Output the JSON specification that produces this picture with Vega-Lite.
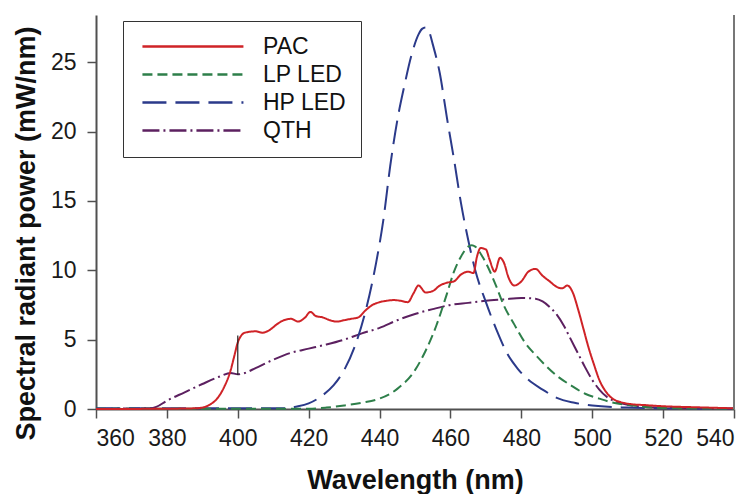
{
  "$schema": "https://vega.github.io/schema/vega-lite/v6.json",
  "width": 638,
  "height": 394,
  "autosize": "none",
  "padding": {"left": 96, "top": 15, "right": 20, "bottom": 85},
  "background": "white",
  "config": {
    "view": {"stroke": null},
    "font": "Liberation Sans",
    "axis": {
      "grid": false,
      "domainColor": "#505050",
      "domainWidth": 2,
      "tickColor": "#505050",
      "tickWidth": 1.5,
      "tickSize": 9,
      "labelFont": "Liberation Sans",
      "labelFontSize": 23,
      "labelColor": "#1a1a1a",
      "titleFont": "Liberation Sans",
      "titleFontWeight": "bold",
      "titleColor": "#111111"
    }
  },
  "datasets": {
    "curves": [
      {"s":"QTH","w":360,"v":0.02},{"s":"QTH","w":375,"v":0.05},{"s":"QTH","w":377,"v":0.15},{"s":"QTH","w":380,"v":0.6},{"s":"QTH","w":385,"v":1.2},{"s":"QTH","w":390,"v":1.8},{"s":"QTH","w":395,"v":2.35},{"s":"QTH","w":398,"v":2.6},{"s":"QTH","w":400,"v":2.5},{"s":"QTH","w":402,"v":2.6},{"s":"QTH","w":405,"v":2.95},{"s":"QTH","w":410,"v":3.55},{"s":"QTH","w":415,"v":4.05},{"s":"QTH","w":420,"v":4.35},{"s":"QTH","w":425,"v":4.65},{"s":"QTH","w":430,"v":5.0},{"s":"QTH","w":435,"v":5.45},{"s":"QTH","w":440,"v":5.85},{"s":"QTH","w":445,"v":6.4},{"s":"QTH","w":450,"v":6.85},{"s":"QTH","w":455,"v":7.2},{"s":"QTH","w":460,"v":7.5},{"s":"QTH","w":465,"v":7.65},{"s":"QTH","w":470,"v":7.8},{"s":"QTH","w":475,"v":7.9},{"s":"QTH","w":480,"v":8.0},{"s":"QTH","w":484,"v":7.95},{"s":"QTH","w":486,"v":7.75},{"s":"QTH","w":488,"v":7.35},{"s":"QTH","w":490,"v":6.8},{"s":"QTH","w":492,"v":6.0},{"s":"QTH","w":494,"v":5.0},{"s":"QTH","w":496,"v":4.0},{"s":"QTH","w":498,"v":3.0},{"s":"QTH","w":500,"v":2.1},{"s":"QTH","w":502,"v":1.4},{"s":"QTH","w":504,"v":0.9},{"s":"QTH","w":507,"v":0.5},{"s":"QTH","w":510,"v":0.3},{"s":"QTH","w":515,"v":0.15},{"s":"QTH","w":520,"v":0.1},{"s":"QTH","w":540,"v":0.03},

      {"s":"HP LED","w":360,"v":0.05},{"s":"HP LED","w":414,"v":0.05},{"s":"HP LED","w":416,"v":0.15},{"s":"HP LED","w":420,"v":0.4},{"s":"HP LED","w":424,"v":1.0},{"s":"HP LED","w":427,"v":1.7},{"s":"HP LED","w":430,"v":2.8},{"s":"HP LED","w":433,"v":4.5},{"s":"HP LED","w":436,"v":7.0},{"s":"HP LED","w":439,"v":10.5},{"s":"HP LED","w":441,"v":13.5},{"s":"HP LED","w":443,"v":17.5},{"s":"HP LED","w":445,"v":20.8},{"s":"HP LED","w":447,"v":23.3},{"s":"HP LED","w":449,"v":25.5},{"s":"HP LED","w":451,"v":27.0},{"s":"HP LED","w":452,"v":27.4},{"s":"HP LED","w":453,"v":27.5},{"s":"HP LED","w":454,"v":27.2},{"s":"HP LED","w":455,"v":26.3},{"s":"HP LED","w":457,"v":24.2},{"s":"HP LED","w":459,"v":21.0},{"s":"HP LED","w":461,"v":18.0},{"s":"HP LED","w":463,"v":14.8},{"s":"HP LED","w":465,"v":12.2},{"s":"HP LED","w":467,"v":10.0},{"s":"HP LED","w":470,"v":7.7},{"s":"HP LED","w":473,"v":5.7},{"s":"HP LED","w":476,"v":4.0},{"s":"HP LED","w":479,"v":2.9},{"s":"HP LED","w":482,"v":2.1},{"s":"HP LED","w":486,"v":1.4},{"s":"HP LED","w":490,"v":0.8},{"s":"HP LED","w":495,"v":0.45},{"s":"HP LED","w":500,"v":0.25},{"s":"HP LED","w":510,"v":0.1},{"s":"HP LED","w":520,"v":0.05},{"s":"HP LED","w":540,"v":0.02},

      {"s":"LP LED","w":360,"v":0.02},{"s":"LP LED","w":420,"v":0.02},{"s":"LP LED","w":425,"v":0.1},{"s":"LP LED","w":430,"v":0.25},{"s":"LP LED","w":435,"v":0.45},{"s":"LP LED","w":440,"v":0.75},{"s":"LP LED","w":445,"v":1.45},{"s":"LP LED","w":450,"v":2.8},{"s":"LP LED","w":453,"v":4.2},{"s":"LP LED","w":456,"v":6.0},{"s":"LP LED","w":459,"v":8.3},{"s":"LP LED","w":461,"v":9.9},{"s":"LP LED","w":463,"v":11.0},{"s":"LP LED","w":465,"v":11.7},{"s":"LP LED","w":466,"v":11.8},{"s":"LP LED","w":467,"v":11.7},{"s":"LP LED","w":469,"v":11.0},{"s":"LP LED","w":471,"v":10.0},{"s":"LP LED","w":473,"v":8.8},{"s":"LP LED","w":475,"v":7.5},{"s":"LP LED","w":478,"v":6.1},{"s":"LP LED","w":481,"v":4.8},{"s":"LP LED","w":484,"v":3.9},{"s":"LP LED","w":487,"v":3.1},{"s":"LP LED","w":490,"v":2.4},{"s":"LP LED","w":494,"v":1.7},{"s":"LP LED","w":498,"v":1.1},{"s":"LP LED","w":502,"v":0.75},{"s":"LP LED","w":506,"v":0.45},{"s":"LP LED","w":510,"v":0.3},{"s":"LP LED","w":515,"v":0.15},{"s":"LP LED","w":520,"v":0.08},{"s":"LP LED","w":540,"v":0.02},

      {"s":"PAC","w":360,"v":0.0},{"s":"PAC","w":380,"v":0.02},{"s":"PAC","w":388,"v":0.05},{"s":"PAC","w":390,"v":0.1},{"s":"PAC","w":392,"v":0.3},{"s":"PAC","w":394,"v":0.7},{"s":"PAC","w":396,"v":1.5},{"s":"PAC","w":398,"v":2.8},{"s":"PAC","w":399,"v":3.8},{"s":"PAC","w":400,"v":4.8},{"s":"PAC","w":401,"v":5.3},{"s":"PAC","w":402,"v":5.5},{"s":"PAC","w":405,"v":5.6},{"s":"PAC","w":407,"v":5.5},{"s":"PAC","w":409,"v":5.7},{"s":"PAC","w":411,"v":6.1},{"s":"PAC","w":413,"v":6.4},{"s":"PAC","w":415,"v":6.5},{"s":"PAC","w":417,"v":6.3},{"s":"PAC","w":419,"v":6.6},{"s":"PAC","w":420.5,"v":7.0},{"s":"PAC","w":422,"v":6.7},{"s":"PAC","w":424,"v":6.6},{"s":"PAC","w":426,"v":6.4},{"s":"PAC","w":428,"v":6.3},{"s":"PAC","w":430,"v":6.4},{"s":"PAC","w":432,"v":6.5},{"s":"PAC","w":434,"v":6.6},{"s":"PAC","w":436,"v":7.1},{"s":"PAC","w":438,"v":7.5},{"s":"PAC","w":440,"v":7.7},{"s":"PAC","w":442,"v":7.8},{"s":"PAC","w":444,"v":7.85},{"s":"PAC","w":446,"v":7.8},{"s":"PAC","w":448,"v":7.7},{"s":"PAC","w":449.5,"v":8.3},{"s":"PAC","w":451,"v":8.9},{"s":"PAC","w":453,"v":8.4},{"s":"PAC","w":455,"v":8.5},{"s":"PAC","w":457,"v":8.9},{"s":"PAC","w":459,"v":9.1},{"s":"PAC","w":461,"v":9.2},{"s":"PAC","w":463,"v":9.7},{"s":"PAC","w":465,"v":9.9},{"s":"PAC","w":466.5,"v":9.8},{"s":"PAC","w":467.5,"v":11.0},{"s":"PAC","w":468.5,"v":11.6},{"s":"PAC","w":470,"v":11.5},{"s":"PAC","w":471,"v":10.8},{"s":"PAC","w":472.5,"v":9.9},{"s":"PAC","w":474,"v":10.9},{"s":"PAC","w":475,"v":10.6},{"s":"PAC","w":476.5,"v":9.4},{"s":"PAC","w":478,"v":8.9},{"s":"PAC","w":480,"v":9.2},{"s":"PAC","w":482,"v":9.9},{"s":"PAC","w":484,"v":10.1},{"s":"PAC","w":486,"v":9.6},{"s":"PAC","w":488,"v":9.2},{"s":"PAC","w":490,"v":8.8},{"s":"PAC","w":491.5,"v":8.7},{"s":"PAC","w":493,"v":8.9},{"s":"PAC","w":494.5,"v":8.4},{"s":"PAC","w":496,"v":7.2},{"s":"PAC","w":497.5,"v":5.8},{"s":"PAC","w":499,"v":4.4},{"s":"PAC","w":500.5,"v":3.2},{"s":"PAC","w":502,"v":2.1},{"s":"PAC","w":504,"v":1.2},{"s":"PAC","w":506,"v":0.7},{"s":"PAC","w":508,"v":0.5},{"s":"PAC","w":511,"v":0.35},{"s":"PAC","w":515,"v":0.28},{"s":"PAC","w":520,"v":0.2},{"s":"PAC","w":530,"v":0.12},{"s":"PAC","w":540,"v":0.05}
    ]
  },
  "layer": [
    {
      "data": {"name": "curves"},
      "mark": {"type": "line", "strokeWidth": 2, "interpolate": "monotone"},
      "encoding": {
        "x": {
          "field": "w", "type": "quantitative",
          "scale": {"domain": [360, 540], "nice": false, "zero": false},
          "axis": {"values": [360,380,400,420,440,460,480,500,520,540], "labelPadding": 9, "title": "Wavelength (nm)", "titleFontSize": 27, "titleX": 319, "titleY": 79, "titleBaseline": "alphabetic", "titleAnchor": "middle"}
        },
        "y": {
          "field": "v", "type": "quantitative",
          "scale": {"domain": [0, 28.4], "nice": false},
          "axis": {"values": [0,5,10,15,20,25], "labelPadding": 11, "title": "Spectral radiant power (mW/nm)", "titleFontSize": 27, "titleX": -62, "titleY": 218, "titleBaseline": "alphabetic", "titleAlign": "center", "titleAngle": 270}
        },
        "color": {
          "field": "s", "type": "nominal",
          "scale": {"domain": ["PAC","LP LED","HP LED","QTH"], "range": ["#cf2327","#2e7f4a","#2b3a8a","#5c2060"]},
          "legend": {
            "title": null, "orient": "none", "legendX": 27, "legendY": 6,
            "direction": "vertical",
            "symbolType": "M-1.2,0H18.8", "symbolSize": 102, "symbolStrokeWidth": 2.5,
            "labelFontSize": 23, "labelFont": "Liberation Sans", "labelColor": "#111111",
            "labelOffset": 103, "rowPadding": 4, "padding": 14,
            "strokeColor": "#333333", "fillColor": "white"
          }
        },
        "strokeDash": {
          "field": "s", "type": "nominal",
          "scale": {"domain": ["PAC","LP LED","HP LED","QTH"], "range": [[1,0],[10,5],[24,9],[17,4,2,4]]},
          "legend": null
        },
        "order": {"field": "w", "type": "quantitative"}
      }
    },
    {
      "data": {"values": [{"w": 400, "lo": 2.45, "hi": 5.3}]},
      "mark": {"type": "rule", "color": "#222222", "strokeWidth": 1.2},
      "encoding": {
        "x": {"field": "w", "type": "quantitative"},
        "y": {"field": "lo", "type": "quantitative"},
        "y2": {"field": "hi"}
      }
    },
    {
      "data": {"values": [{"w": 540}]},
      "mark": {"type": "rule", "color": "#777777", "strokeWidth": 2},
      "encoding": {
        "x": {"field": "w", "type": "quantitative"}
      }
    }
  ]
}
